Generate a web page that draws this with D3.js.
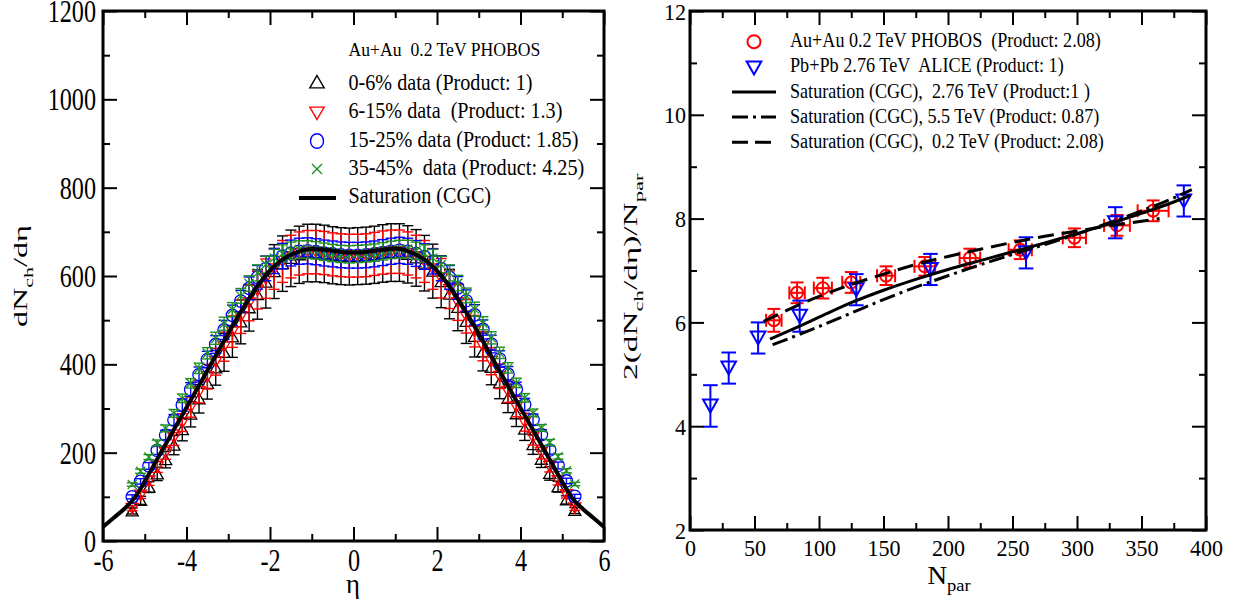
<!DOCTYPE html>
<html><head><meta charset="utf-8">
<script src="https://cdn.jsdelivr.net/npm/d3@7"></script>
<style>
body{margin:0;background:#fff}
svg{display:block}
text{font-family:"Liberation Serif","Times New Roman",serif;fill:#000;white-space:pre}
</style>
</head><body>
<svg id="c" width="1240" height="604"></svg>
<script>
// ---------- LEFT PANEL DATA ----------
const etaVals = [-5.3,-5.1,-4.9,-4.7,-4.5,-4.3,-4.1,-3.9,-3.7,-3.5,-3.3,-3.1,-2.9,-2.7,-2.5,-2.3,-2.1,-1.9,-1.7,-1.5,-1.3,-1.1,-0.9,-0.7,-0.5,-0.3,-0.1,
                 0.1,0.3,0.5,0.7,0.9,1.1,1.3,1.5,1.7,1.9,2.1,2.3,2.5,2.7,2.9,3.1,3.3,3.5,3.7,3.9,4.1,4.3,4.5,4.7,4.9,5.1,5.3];
const c0_6 = [68,92,122,152,184,217,252,287,322,357,392,427,462,496,528,558,586,610,628,640,648,652,652,650,647,645,644,
              645,646,648,651,653,653,649,641,629,611,587,559,529,497,463,428,393,358,323,288,253,218,185,153,123,93,69];
const c6_15 = [74,104,136,168,200,234,268,303,338,372,406,440,474,508,539,568,594,616,633,644,651,654,654,652,649,647,646,
               646,647,650,653,655,655,651,644,633,616,595,569,540,509,475,441,407,373,339,304,269,235,201,169,137,105,75];
const c15_25 = [100,135,170,205,240,274,308,343,377,411,445,478,511,543,572,597,617,634,645,652,656,657,655,652,650,648,647,
                647,648,650,653,656,658,656,651,644,633,617,597,573,544,512,479,446,412,378,344,309,275,241,206,171,136,101];
const c35_45 = [128,158,190,222,255,289,323,357,391,425,459,492,524,555,583,607,626,641,651,657,660,660,658,655,652,650,649,
                650,651,653,656,659,661,661,657,651,641,626,607,584,556,525,493,460,426,392,358,324,290,256,223,191,159,129];
// relative systematic uncertainties of each centrality class
const relErr0_6 = 0.10, relErr6_15 = 0.075, relErr15_25 = 0.045, relErr35_45 = 0.03;

const cgcEta = [-6,-5.75,-5.5,-5.25,-5,-4.75,-4.5,-4.25,-4,-3.75,-3.5,-3.25,-3,-2.75,-2.5,-2.25,-2,-1.75,-1.5,-1.25,-1,-0.75,-0.5,-0.25,0,
                0.25,0.5,0.75,1,1.25,1.5,1.75,2,2.25,2.5,2.75,3,3.25,3.5,3.75,4,4.25,4.5,4.75,5,5.25,5.5,5.75,6];
const cgcVal = [32,52,72,97,135,177,219,261,302,344,386,428,470,511,549,584,613,634,648,657,661,660,657,654,653,
                654,657,660,662,658,648,634,612,583,548,510,469,427,385,343,301,260,218,176,134,96,72,52,32];

const leftXTicks = [-6,-4,-2,0,2,4,6];
const leftXMinor = [-5,-3,-1,1,3,5];
const leftYTicks = [0,200,400,600,800,1000,1200];
const leftYMinor = [100,300,500,700,900,1100];

// ---------- RIGHT PANEL DATA ----------
const phobosN    = [65,83,103,125,152,182,217,256,298,331,359];
const phobosY    = [6.04,6.57,6.66,6.77,6.90,7.08,7.24,7.40,7.63,7.87,8.15];
const phobosYErr = [0.22,0.2,0.2,0.2,0.18,0.18,0.18,0.18,0.18,0.2,0.2];
const phobosNErr = [6,6,7,7,7,8,8,9,9,10,12];

const aliceN    = [15.8,30.0,52.8,85.0,128.9,186.4,260.5,329.7,382.8];
const aliceY    = [4.39,5.12,5.70,6.12,6.63,7.02,7.34,7.92,8.34];
const aliceYErr = [0.4,0.3,0.3,0.3,0.3,0.3,0.3,0.3,0.3];

const cgc276N = [62,85,100,125,150,175,200,225,250,275,300,325,350,375,388];
const cgc276Y = [5.68,5.93,6.10,6.38,6.62,6.83,7.02,7.19,7.36,7.53,7.71,7.90,8.10,8.32,8.45];
const cgc55N  = [64,85,100,125,150,175,200,225,250,275,300,325,350,375,389];
const cgc55Y  = [5.57,5.77,5.92,6.18,6.44,6.68,6.90,7.11,7.31,7.50,7.70,7.92,8.15,8.40,8.56];
const cgc02N  = [57,75,90,100,125,150,180,200,225,256,275,300,325,350,364];
const cgc02Y  = [6.02,6.23,6.40,6.50,6.73,6.93,7.15,7.27,7.41,7.57,7.66,7.76,7.86,7.95,8.00];

const rightXTicks = [0,50,100,150,200,250,300,350,400];
const rightXMinor = [25,75,125,175,225,275,325,375];
const rightYTicks = [2,4,6,8,10,12];
const rightYMinor = [3,5,7,9,11];

// ---------- DRAWING ----------
const svg = d3.select("#c");
const GREEN = "#1f8f1f";
const SERIF = '"Liberation Serif", "Times New Roman", serif';

function fitText(parent, x, y, parts, size, width, rotate) {
  const g = parent.append("g");
  const t = g.append("text").attr("font-size", size).attr("font-family", SERIF).attr("x", 0).attr("y", 0);
  let shifted = 0;
  parts.forEach(p => {
    const ts = t.append("tspan").text(p.t);
    if (p.sub) {
      ts.attr("font-size", size * 0.68).attr("dy", size * 0.3 - shifted);
      shifted = size * 0.3;
    } else {
      ts.attr("dy", -shifted);
      shifted = 0;
    }
  });
  const w = t.node().getBBox().width;
  const sx = width ? width / w : 1;
  g.attr("transform", `translate(${x},${y}) rotate(${rotate || 0}) scale(${sx},1)`);
  return g;
}

function frame(g, x, y, o) {
  const [x0, x1] = x.range(), [y0, y1] = y.range();
  const styleAxis = a => {
    a.attr("font-family", SERIF);
    a.select(".domain").remove();
    a.selectAll("line").attr("stroke", "#000").attr("stroke-width", 2);
  };
  const fmt = d => String(d);
  // bottom
  let a = g.append("g").attr("transform", `translate(0,${y0})`)
    .call(d3.axisBottom(x).tickValues(o.xT).tickSizeInner(-14).tickSizeOuter(0).tickFormat(fmt));
  styleAxis(a);
  a.selectAll("text").attr("y", o.xLabY).attr("dy", 0).attr("font-size", o.fs).attr("font-family", SERIF)
    .attr("transform", `scale(${o.sx},1)`);
  a = g.append("g").attr("transform", `translate(0,${y0})`)
    .call(d3.axisBottom(x).tickValues(o.xM).tickSizeInner(-7).tickSizeOuter(0).tickFormat(""));
  styleAxis(a);
  // top
  a = g.append("g").attr("transform", `translate(0,${y1})`)
    .call(d3.axisTop(x).tickValues(o.xT).tickSizeInner(-14).tickSizeOuter(0).tickFormat(""));
  styleAxis(a);
  a = g.append("g").attr("transform", `translate(0,${y1})`)
    .call(d3.axisTop(x).tickValues(o.xM).tickSizeInner(-7).tickSizeOuter(0).tickFormat(""));
  styleAxis(a);
  // left
  a = g.append("g").attr("transform", `translate(${x0},0)`)
    .call(d3.axisLeft(y).tickValues(o.yT).tickSizeInner(-14).tickSizeOuter(0).tickFormat(fmt));
  styleAxis(a);
  a.selectAll("text").attr("x", -o.yLabGap / o.sx).attr("dy", "0.34em").attr("font-size", o.fs).attr("font-family", SERIF)
    .attr("transform", `scale(${o.sx},1)`);
  a = g.append("g").attr("transform", `translate(${x0},0)`)
    .call(d3.axisLeft(y).tickValues(o.yM).tickSizeInner(-7).tickSizeOuter(0).tickFormat(""));
  styleAxis(a);
  // right
  a = g.append("g").attr("transform", `translate(${x1},0)`)
    .call(d3.axisRight(y).tickValues(o.yT).tickSizeInner(-14).tickSizeOuter(0).tickFormat(""));
  styleAxis(a);
  a = g.append("g").attr("transform", `translate(${x1},0)`)
    .call(d3.axisRight(y).tickValues(o.yM).tickSizeInner(-7).tickSizeOuter(0).tickFormat(""));
  styleAxis(a);
  g.append("rect").attr("x", x0).attr("y", y1).attr("width", x1 - x0).attr("height", y0 - y1)
    .attr("fill", "none").attr("stroke", "#000").attr("stroke-width", 3);
}

const sym = {
  up: s => `M0,${-s*0.5} L${s*0.55},${s*0.45} L${-s*0.55},${s*0.45} Z`,
  down: s => `M0,${s*0.5} L${s*0.55},${-s*0.45} L${-s*0.55},${-s*0.45} Z`,
  x: s => `M${-s/2},${-s/2} L${s/2},${s/2} M${-s/2},${s/2} L${s/2},${-s/2}`
};

// ===== LEFT PANEL =====
const xL = d3.scaleLinear([-6, 6], [103, 604]);
const yL = d3.scaleLinear([0, 1200], [541, 11]);
const gL = svg.append("g");

const leftSeries = [
  {v: c0_6, e: relErr0_6, c: "#000", m: "up"},
  {v: c6_15, e: relErr6_15, c: "#ff0000", m: "down"},
  {v: c15_25, e: relErr15_25, c: "#0000ff", m: "circle"},
  {v: c35_45, e: relErr35_45, c: GREEN, m: "x"}
];
leftSeries.forEach(s => {
  const pts = etaVals.map((e, i) => ({x: xL(e), y: yL(s.v[i]), lo: yL(s.v[i] * (1 - s.e)), hi: yL(s.v[i] * (1 + s.e))}));
  const eg = gL.append("g").attr("stroke", s.c).attr("stroke-width", 1.4).attr("fill", "none");
  pts.forEach(p => {
    eg.append("line").attr("x1", p.x).attr("x2", p.x).attr("y1", p.lo).attr("y2", p.hi);
    eg.append("line").attr("x1", p.x - 5.5).attr("x2", p.x + 5.5).attr("y1", p.lo).attr("y2", p.lo);
    eg.append("line").attr("x1", p.x - 5.5).attr("x2", p.x + 5.5).attr("y1", p.hi).attr("y2", p.hi);
  });
  const mg = gL.append("g").attr("stroke", s.c).attr("stroke-width", 1.3).attr("fill", "none");
  pts.forEach(p => {
    if (s.m === "circle") mg.append("circle").attr("cx", p.x).attr("cy", p.y).attr("r", 6.2);
    else mg.append("path").attr("d", sym[s.m](s.m === "x" ? 9 : 11)).attr("transform", `translate(${p.x},${p.y})`);
  });
});
gL.append("path")
  .datum(cgcEta.map((e, i) => [e, cgcVal[i]]))
  .attr("fill", "none").attr("stroke", "#000").attr("stroke-width", 4).attr("stroke-linejoin", "round")
  .attr("d", d3.line().x(d => xL(d[0])).y(d => yL(d[1])).curve(d3.curveMonotoneX));

frame(gL, xL, yL, {xT: leftXTicks, xM: leftXMinor, yT: leftYTicks, yM: leftYMinor, fs: 31, sx: 0.78, xLabY: 30, yLabGap: 7});

// left legend
fitText(gL, 348.5, 55.5, [{t: "Au+Au  0.2 TeV PHOBOS"}], 18.6, 192);
const legL = [
  {t: "0-6% data (Product: 1)", w: 184, c: "#000", m: "up", y: 90, sy: 82},
  {t: "6-15% data  (Product: 1.3)", w: 214, c: "#ff0000", m: "down", y: 118.3, sy: 113},
  {t: "15-25% data (Product: 1.85)", w: 230, c: "#0000ff", m: "circle", y: 146.7, sy: 141},
  {t: "35-45%  data (Product: 4.25)", w: 236, c: GREEN, m: "x", y: 175, sy: 169},
  {t: "Saturation (CGC)", w: 142.6, c: "#000", m: "line", y: 203.3, sy: 198}
];
legL.forEach(r => {
  fitText(gL, 348.5, r.y, [{t: r.t}], 23.5, r.w);
  if (r.m === "circle") gL.append("ellipse").attr("cx", 317).attr("cy", r.sy).attr("rx", 6.5).attr("ry", 7.3)
    .attr("fill", "none").attr("stroke", r.c).attr("stroke-width", 1.4);
  else if (r.m === "line") gL.append("line").attr("x1", 299).attr("x2", 336).attr("y1", r.sy).attr("y2", r.sy)
    .attr("stroke", "#000").attr("stroke-width", 4);
  else gL.append("path").attr("d", sym[r.m](r.m === "x" ? 10 : 13)).attr("transform", `translate(317,${r.sy})`)
    .attr("fill", "none").attr("stroke", r.c).attr("stroke-width", 1.4);
});

// left axis titles
fitText(gL, 27, 327, [{t: "dN"}, {t: "ch", sub: true}, {t: "/dη"}], 19, 102, -90);
fitText(gL, 346, 593, [{t: "η"}], 28, 14);

// ===== RIGHT PANEL =====
const xR = d3.scaleLinear([0, 400], [690, 1206]);
const yR = d3.scaleLinear([2, 12], [530, 11]);
const gR = svg.append("g");

// PHOBOS (red circles, x and y errors)
const ph = phobosN.map((n, i) => ({x: xR(n), y: yR(phobosY[i]), lo: yR(phobosY[i] - phobosYErr[i]), hi: yR(phobosY[i] + phobosYErr[i]),
  l: xR(n - phobosNErr[i]), r: xR(n + phobosNErr[i])}));
const pg = gR.append("g").attr("stroke", "#ff0000").attr("stroke-width", 2).attr("fill", "none");
ph.forEach(p => {
  pg.append("line").attr("x1", p.x).attr("x2", p.x).attr("y1", p.lo).attr("y2", p.hi);
  pg.append("line").attr("x1", p.x - 6.5).attr("x2", p.x + 6.5).attr("y1", p.lo).attr("y2", p.lo);
  pg.append("line").attr("x1", p.x - 6.5).attr("x2", p.x + 6.5).attr("y1", p.hi).attr("y2", p.hi);
  pg.append("line").attr("x1", p.l).attr("x2", p.r).attr("y1", p.y).attr("y2", p.y);
  pg.append("line").attr("x1", p.l).attr("x2", p.l).attr("y1", p.y - 6.5).attr("y2", p.y + 6.5);
  pg.append("line").attr("x1", p.r).attr("x2", p.r).attr("y1", p.y - 6.5).attr("y2", p.y + 6.5);
  pg.append("circle").attr("cx", p.x).attr("cy", p.y).attr("r", 6);
});
// ALICE (blue down triangles)
const al = aliceN.map((n, i) => ({x: xR(n), y: yR(aliceY[i]), lo: yR(aliceY[i] - aliceYErr[i]), hi: yR(aliceY[i] + aliceYErr[i])}));
const ag = gR.append("g").attr("stroke", "#0000ff").attr("stroke-width", 2).attr("fill", "none");
al.forEach(p => {
  ag.append("line").attr("x1", p.x).attr("x2", p.x).attr("y1", p.lo).attr("y2", p.hi);
  ag.append("line").attr("x1", p.x - 7.3).attr("x2", p.x + 7.3).attr("y1", p.lo).attr("y2", p.lo);
  ag.append("line").attr("x1", p.x - 7.3).attr("x2", p.x + 7.3).attr("y1", p.hi).attr("y2", p.hi);
  ag.append("path").attr("d", "M0,6.5 L7.3,-6.5 L-7.3,-6.5 Z").attr("transform", `translate(${p.x},${p.y})`);
});
// CGC lines
const lineR = d3.line().x(d => xR(d[0])).y(d => yR(d[1])).curve(d3.curveMonotoneX);
[
  {n: cgc276N, v: cgc276Y, dash: null},
  {n: cgc55N, v: cgc55Y, dash: "16,5,3,5"},
  {n: cgc02N, v: cgc02Y, dash: "16,8"}
].forEach(s => {
  gR.append("path").datum(s.n.map((n, i) => [n, s.v[i]]))
    .attr("fill", "none").attr("stroke", "#000").attr("stroke-width", 3)
    .attr("stroke-dasharray", s.dash).attr("d", lineR);
});

frame(gR, xR, yR, {xT: rightXTicks, xM: rightXMinor, yT: rightYTicks, yM: rightYMinor, fs: 24, sx: 0.92, xLabY: 26, yLabGap: 4});

// right legend
const legR = [
  {t: "Au+Au 0.2 TeV PHOBOS  (Product: 2.08)", w: 311, y: 46.7, sy: 41.7, m: "circle"},
  {t: "Pb+Pb 2.76 TeV  ALICE (Product: 1)", w: 274, y: 72.3, sy: 68, m: "down"},
  {t: "Saturation (CGC),  2.76 TeV (Product:1 )", w: 300, y: 97.7, sy: 92, m: null},
  {t: "Saturation (CGC), 5.5 TeV (Product: 0.87)", w: 309.5, y: 122.7, sy: 117, m: "16,5,3,5"},
  {t: "Saturation (CGC),  0.2 TeV (Product: 2.08)", w: 314, y: 147.7, sy: 142.3, m: "16,7"}
];
legR.forEach(r => {
  fitText(gR, 790, r.y, [{t: r.t}], 20, r.w);
  if (r.m === "circle") gR.append("circle").attr("cx", 754).attr("cy", r.sy).attr("r", 6.5)
    .attr("fill", "none").attr("stroke", "#ff0000").attr("stroke-width", 2);
  else if (r.m === "down") gR.append("path").attr("d", "M0,6.5 L7.3,-6.5 L-7.3,-6.5 Z").attr("transform", `translate(754,${r.sy})`)
    .attr("fill", "none").attr("stroke", "#0000ff").attr("stroke-width", 2);
  else gR.append("line").attr("x1", 732).attr("x2", 776).attr("y1", r.sy).attr("y2", r.sy)
    .attr("stroke", "#000").attr("stroke-width", 3).attr("stroke-dasharray", r.m);
});

// right axis titles
fitText(gR, 637, 380, [{t: "2(dN"}, {t: "ch", sub: true}, {t: "/dη)/N"}, {t: "par", sub: true}], 19, 208, -90);
fitText(gR, 927.5, 583.5, [{t: "N"}, {t: "par", sub: true}], 25, 43.5);
</script>
</body></html>
